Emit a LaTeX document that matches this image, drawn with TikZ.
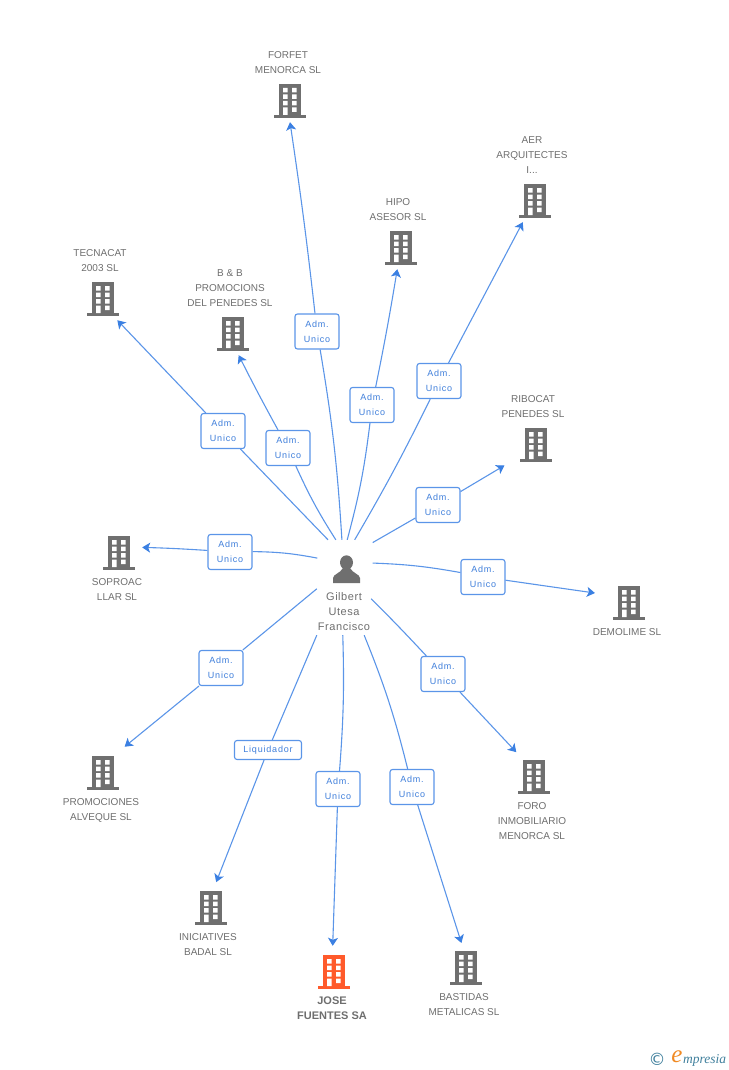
\documentclass[tikz,border=0pt]{standalone}
\usepackage{fontspec}
\setmainfont{Liberation Sans}
\newfontfamily\boxfont[LetterSpace=9]{Liberation Sans}
\newfontfamily\gpfont[LetterSpace=5]{Liberation Sans}
\newfontfamily\logofont{Liberation Serif}
\usetikzlibrary{arrows.meta,shapes}
\definecolor{linkblue}{HTML}{5B95E8}
\definecolor{tipblue}{HTML}{3B80E2}
\definecolor{boxtext}{HTML}{3F7FDB}
\definecolor{icongrey}{HTML}{6F6F6F}
\definecolor{txtgrey}{HTML}{6E6E6E}
\definecolor{iconorange}{HTML}{FF5A2B}
\definecolor{logoteal}{HTML}{3F7F9C}
\definecolor{logoorange}{HTML}{F08A24}
\tikzset {>={Stealth[length=8pt,width=10pt,inset=2pt,color=tipblue]}}
\tikzset{
  link/.style={draw=linkblue,line width=1.1pt},
  arrowlink/.style={link,->},
  admbox/.style={draw=linkblue,line width=1.1pt,fill=white,rounded corners=2.5pt,inner sep=0pt,
    minimum width=44pt,minimum height=35pt,align=center,text=boxtext,
    font=\boxfont\fontsize{9}{15}\selectfont},
  firmtxt/.style={align=center,text=txtgrey,font=\fontsize{10}{15}\selectfont},
  bldg/.style={rectangle,inner sep=0pt,minimum width=42pt,minimum height=42pt,
    path picture={
      \begin{scope}[shift={(path picture bounding box.center)}]
      \fill[#1] (-16,14) rectangle (16,17);
      \fill[#1] (-11,-17) rectangle (11,15);
      \fill[white] (-7,-13) rectangle (-2.5,-8.5) (2,-13) rectangle (6.5,-8.5);
      \fill[white] (-7,-6.5) rectangle (-2.5,-2) (2,-6.5) rectangle (6.5,-2);
      \fill[white] (-7,0) rectangle (-2.5,4.5) (2,0) rectangle (6.5,4.5);
      \fill[white] (-7,6.5) rectangle (-2.5,14) (2,6.5) rectangle (6.5,11);
      \end{scope}
    }},
  persona/.style={rectangle,inner sep=0pt,minimum width=55pt,minimum height=50pt,
    path picture={
      \begin{scope}[shift={(path picture bounding box.center)}]
      \fill[icongrey] (1.5,-2.5) ellipse (6.5pt and 7.2pt);
      \fill[icongrey] (-12,18) -- (-12,13) .. controls (-11.5,9) and (-5,8.5) .. (-2,3)
        -- (5,3) .. controls (8,8.5) and (14.5,9) .. (15,13) -- (15,18) -- cycle;
      \end{scope}
    }}
}
\begin{document}
\begin{tikzpicture}[x=1pt,y=-1pt]
\useasboundingbox (0,0) rectangle (728,1070);
% persona
\node[persona] (gilbert) at (345,565) {};
\node[inner sep=0pt,minimum width=54pt,minimum height=46pt,align=center,text=txtgrey,
  font=\gpfont\fontsize{11}{15}\selectfont] (gilberttxt) at (344,612) {Gilbert\\Utesa\\Francisco};
% empresas
\node[bldg=icongrey] (forfet) at (290,101) {};
\node[bldg=icongrey] (hipo) at (401,248) {};
\node[bldg=icongrey] (aer) at (535,201) {};
\node[bldg=icongrey] (ribocat) at (536,445) {};
\node[bldg=icongrey] (demolime) at (629,603) {};
\node[bldg=icongrey] (foro) at (534,777) {};
\node[bldg=icongrey] (bastidas) at (466,968) {};
\node[bldg=iconorange] (jose) at (334,972) {};
\node[bldg=icongrey] (iniciatives) at (211,908) {};
\node[bldg=icongrey] (promociones) at (103,773) {};
\node[bldg=icongrey] (soproac) at (119,553) {};
\node[bldg=icongrey] (tecnacat) at (103,299) {};
\node[bldg=icongrey] (bb) at (233,334) {};
% nombres
\node[firmtxt] (forfettxt) at (288,63) {FORFET\\MENORCA SL};
\node[firmtxt] (hipotxt) at (398,210) {HIPO\\ASESOR SL};
\node[firmtxt] (aertxt) at (532,155) {AER\\ARQUITECTES\\I...};
\node[firmtxt] (ribocattxt) at (533,407) {RIBOCAT\\PENEDES SL};
\node[firmtxt] (demolimetxt) at (627,632) {DEMOLIME SL};
\node[firmtxt] (forotxt) at (532,821) {FORO\\INMOBILIARIO\\MENORCA SL};
\node[firmtxt] (bastidastxt) at (464,1005) {BASTIDAS\\METALICAS SL};
\node[firmtxt,font=\bfseries\fontsize{11}{15}\selectfont] (josetxt) at (332,1008) {JOSE\\FUENTES SA};
\node[firmtxt] (iniciativestxt) at (208,945) {INICIATIVES\\BADAL SL};
\node[firmtxt] (promocionestxt) at (101,810) {PROMOCIONES\\ALVEQUE SL};
\node[firmtxt] (soproactxt) at (117,590) {SOPROAC\\LLAR SL};
\node[firmtxt] (tecnacattxt) at (100,261) {TECNACAT\\2003 SL};
\node[firmtxt] (bbtxt) at (230,288) {B \& B\\PROMOCIONS\\DEL PENEDES SL};
% cargos
\node[admbox] (bxforfet) at (317,331.5) {Adm.\\Unico};
\node[admbox] (bxhipo) at (372,405) {Adm.\\Unico};
\node[admbox] (bxaer) at (439,381) {Adm.\\Unico};
\node[admbox] (bxribocat) at (438,505) {Adm.\\Unico};
\node[admbox] (bxdemolime) at (483,577) {Adm.\\Unico};
\node[admbox] (bxforo) at (443,674) {Adm.\\Unico};
\node[admbox] (bxbastidas) at (412,787) {Adm.\\Unico};
\node[admbox] (bxjose) at (338,789) {Adm.\\Unico};
\node[admbox,minimum width=67pt,minimum height=19pt] (bxiniciatives) at (268,750) {Liquidador};
\node[admbox] (bxpromociones) at (221,668) {Adm.\\Unico};
\node[admbox] (bxsoproac) at (230,552) {Adm.\\Unico};
\node[admbox] (bxtecnacat) at (223,431) {Adm.\\Unico};
\node[admbox] (bxbb) at (288,448) {Adm.\\Unico};
% de la persona a los cargos
\draw[link] (gilbert.97) to[bend right=3] (bxforfet);
\draw[link] (gilbert.85) to[bend right=4] (bxhipo);
\draw[link] (gilbert.69) to[bend right=2] (bxaer);
\draw[link] (gilbert.39) to (bxribocat);
\draw[link] (gilbert.4) to[bend left=4] (bxdemolime);
\draw[link] (gilberttxt.26) to[bend left=1] (bxforo);
\draw[link] (gilberttxt.-49) to[bend left=4] (bxbastidas);
\draw[link] (gilberttxt.-93) to[bend left=3] (bxjose);
\draw[link] (gilberttxt.south west) to (bxiniciatives);
\draw[link] (gilberttxt.north west) to (bxpromociones);
\draw[link] (gilbert.166) to[bend right=5] (bxsoproac);
\draw[link] (gilbert.124) to (bxtecnacat);
\draw[link] (gilbert.110) to[bend left=4] (bxbb);
% de los cargos a las empresas
\draw[arrowlink] (bxforfet) to[bend right=1] (forfet.south);
\draw[arrowlink] (bxhipo) to[bend right=1] (hipo.260);
\draw[arrowlink] (bxaer) to (aer.240);
\draw[arrowlink,shorten >=12pt] (bxribocat) to (ribocat.214);
\draw[arrowlink,shorten >=13pt] (bxdemolime) to (demolime.159);
\draw[arrowlink,shorten >=5pt] (bxforo) to (foro.124);
\draw[arrowlink,shorten >=4pt] (bxbastidas) to (bastidas.99);
\draw[arrowlink,shorten >=5pt] (bxjose) to (jose.94);
\draw[arrowlink,shorten >=5pt] (bxiniciatives) to (iniciatives.81);
\draw[arrowlink,shorten >=8pt] (bxpromociones) to (promociones.54);
\draw[arrowlink,shorten >=2pt] (bxsoproac) to[bend right=1] (soproac.15);
\draw[arrowlink] (bxtecnacat) to (tecnacat.304);
\draw[arrowlink] (bxbb) to[bend left=1] (bb.285);
% marca
\node[inner sep=0pt,text=logoteal,font=\fontspec{DejaVu Sans}\fontsize{17}{17}\selectfont] (logoc) at (657,1059) {©};
\node[inner sep=0pt,text=logoorange,font=\logofont\itshape\fontsize{25}{25}\selectfont] (logoe) at (677,1057) {e};
\node[inner sep=0pt,text=logoteal,font=\logofont\itshape\fontsize{13.5}{13.5}\selectfont] (logom) at (704.5,1060) {mpresia};
\end{tikzpicture}
\end{document}
